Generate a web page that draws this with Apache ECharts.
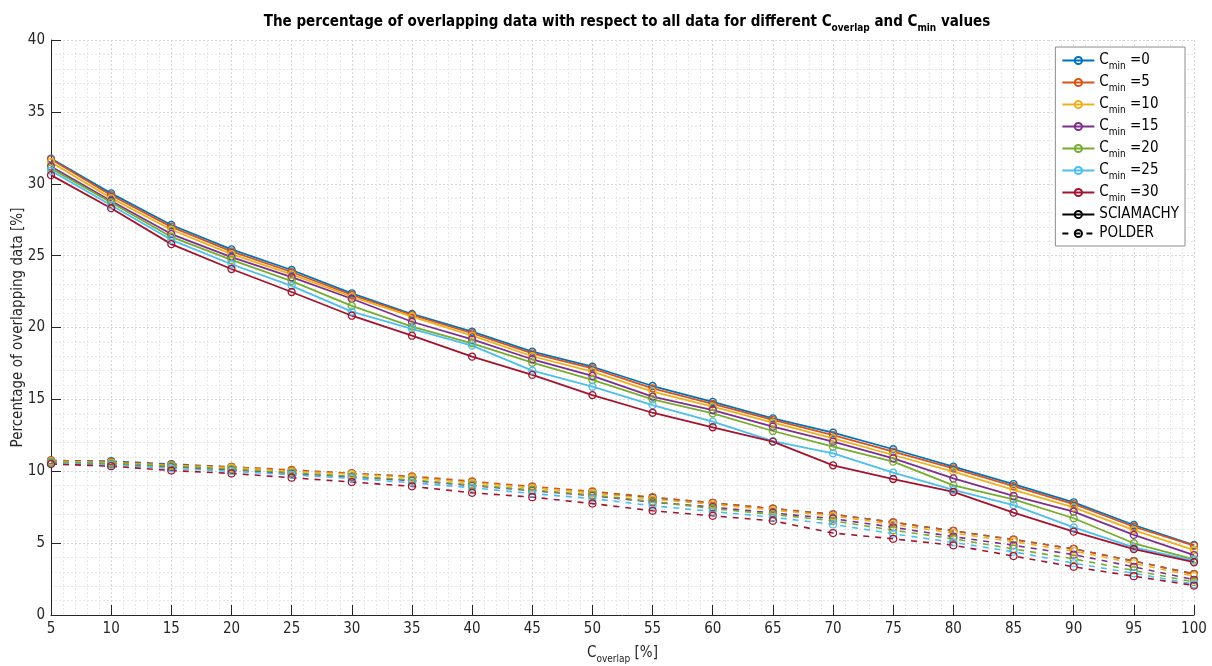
<!DOCTYPE html>
<html>
<head>
<meta charset="utf-8">
<script src="https://cdn.jsdelivr.net/npm/echarts@6/dist/echarts.min.js"></script>
<style>
  html, body { margin: 0; padding: 0; background: #fff; }
  #chart { width: 1212px; height: 666px; }
</style>
</head>
<body>
<div id="chart"></div>
<script>
// C_overlap values (x axis, %)
const cOverlap = [5, 10, 15, 20, 25, 30, 35, 40, 45, 50, 55, 60, 65, 70, 75, 80, 85, 90, 95, 100];

// C_min levels and their colours
const cMinLevels = [0, 5, 10, 15, 20, 25, 30];
const colors = ['#0072BD', '#D95319', '#EDB120', '#7E2F8E', '#77AC30', '#4DBEEE', '#A2142F'];

// SCIAMACHY: percentage of overlapping data per C_min level
const sciamachy0  = [31.75, 29.33, 27.13, 25.43, 24.0, 22.38, 20.94, 19.71, 18.32, 17.27, 15.93, 14.82, 13.68, 12.68, 11.53, 10.32, 9.11, 7.84, 6.26, 4.87];
const sciamachy5  = [31.7, 29.2, 27.0, 25.3, 23.86, 22.26, 20.87, 19.6, 18.2, 17.16, 15.77, 14.68, 13.57, 12.52, 11.36, 10.2, 8.97, 7.72, 6.14, 4.82];
const sciamachy10 = [31.5, 29.0, 26.8, 25.1, 23.7, 22.14, 20.75, 19.43, 18.0, 16.93, 15.54, 14.49, 13.38, 12.29, 11.13, 9.97, 8.7, 7.49, 5.91, 4.52];
const sciamachy15 = [31.2, 28.8, 26.5, 24.9, 23.5, 22.0, 20.4, 19.18, 17.79, 16.63, 15.19, 14.26, 13.1, 12.06, 10.9, 9.5, 8.28, 7.19, 5.57, 4.17];
const sciamachy20 = [31.07, 28.7, 26.3, 24.7, 23.23, 21.5, 20.06, 18.9, 17.55, 16.35, 15.0, 14.03, 12.8, 11.71, 10.67, 9.02, 8.05, 6.73, 4.99, 3.87];
const sciamachy25 = [30.9, 28.5, 26.1, 24.4, 22.9, 21.1, 19.9, 18.74, 17.0, 15.88, 14.6, 13.45, 12.1, 11.25, 9.9, 8.7, 7.65, 6.1, 4.7, 3.78];
const sciamachy30 = [30.6, 28.3, 25.8, 24.07, 22.47, 20.82, 19.43, 17.97, 16.7, 15.3, 14.07, 13.06, 12.06, 10.41, 9.46, 8.56, 7.12, 5.8, 4.59, 3.67];

// POLDER: percentage of overlapping data per C_min level
const polder0  = [10.75, 10.7, 10.5, 10.3, 10.05, 9.85, 9.6, 9.25, 8.9, 8.55, 8.15, 7.8, 7.4, 7.0, 6.45, 5.85, 5.25, 4.6, 3.75, 2.85];
const polder5  = [10.75, 10.65, 10.45, 10.3, 10.1, 9.85, 9.65, 9.3, 8.95, 8.6, 8.2, 7.8, 7.4, 7.0, 6.45, 5.85, 5.25, 4.6, 3.75, 2.85];
const polder10 = [10.7, 10.6, 10.4, 10.25, 10.0, 9.8, 9.55, 9.2, 8.85, 8.5, 8.05, 7.7, 7.3, 6.9, 6.3, 5.7, 5.1, 4.45, 3.6, 2.7];
const polder15 = [10.6, 10.5, 10.3, 10.1, 9.85, 9.6, 9.35, 9.0, 8.65, 8.3, 7.85, 7.5, 7.1, 6.7, 6.1, 5.45, 4.85, 4.2, 3.35, 2.45];
const polder20 = [10.65, 10.55, 10.35, 10.15, 9.9, 9.65, 9.4, 9.05, 8.7, 8.35, 7.9, 7.4, 7.0, 6.55, 5.9, 5.3, 4.6, 3.9, 3.1, 2.3];
const polder25 = [10.55, 10.45, 10.2, 10.0, 9.75, 9.5, 9.2, 8.85, 8.45, 8.1, 7.6, 7.2, 6.8, 6.3, 5.65, 5.05, 4.4, 3.6, 2.9, 2.15];
const polder30 = [10.5, 10.35, 10.05, 9.85, 9.55, 9.25, 8.95, 8.5, 8.2, 7.75, 7.25, 6.9, 6.55, 5.7, 5.3, 4.85, 4.1, 3.35, 2.7, 2.05];

const sciamachy = [sciamachy0, sciamachy5, sciamachy10, sciamachy15, sciamachy20, sciamachy25, sciamachy30];
const polder = [polder0, polder5, polder10, polder15, polder20, polder25, polder30];

const FONT = '"Liberation Sans Narrow", "DejaVu Sans Condensed", "Liberation Sans", Arial, sans-serif';
const INK = '#262626';

// rich-text styles for C with a subscript
const richBase = {
  m: { fontFamily: FONT, fontSize: 15, color: INK },
  s: { fontFamily: FONT, fontSize: 10, color: INK, padding: [11, 0, 0, 0] }
};
const richLegend = {
  m: { fontFamily: FONT, fontSize: 15, color: '#000' },
  s: { fontFamily: FONT, fontSize: 10, color: '#000', padding: [11, 0, 0, 0] }
};
const richBold = {
  m: { fontFamily: FONT, fontSize: 15, fontWeight: 'bold', color: '#000' },
  s: { fontFamily: FONT, fontSize: 10, fontWeight: 'bold', color: '#000', padding: [11, 0, 0, 0] }
};

const pairs = (ys) => cOverlap.map((x, i) => [x, ys[i]]);
const legendName = (c) => 'Cmin =' + c;

const series = [];
cMinLevels.forEach((c, k) => {
  series.push({
    name: legendName(c),
    type: 'line',
    data: pairs(sciamachy[k]),
    symbol: 'circle',
    symbolSize: 7,
    lineStyle: { color: colors[k], width: 1.8 },
    itemStyle: { color: 'rgba(0,0,0,0)', borderColor: colors[k], borderWidth: 1.3 },
    emphasis: { disabled: true },
    z: 3
  });
});
cMinLevels.forEach((c, k) => {
  series.push({
    name: 'POLDER ' + legendName(c),
    type: 'line',
    data: pairs(polder[k]),
    symbol: 'circle',
    symbolSize: 7,
    lineStyle: { color: colors[k], width: 1.6, type: [6, 6] },
    itemStyle: { color: 'rgba(0,0,0,0)', borderColor: colors[k], borderWidth: 1.2 },
    emphasis: { disabled: true },
    z: 2
  });
});
// legend keys for the two instruments
series.push({
  name: 'SCIAMACHY', type: 'line', data: [], symbol: 'circle', symbolSize: 7,
  lineStyle: { color: '#000', width: 1.8 },
  itemStyle: { color: 'rgba(0,0,0,0)', borderColor: '#000', borderWidth: 1.3 }
});
series.push({
  name: 'POLDER', type: 'line', data: [], symbol: 'circle', symbolSize: 7,
  lineStyle: { color: '#000', width: 1.4, type: [6, 6] },
  itemStyle: { color: 'rgba(0,0,0,0)', borderColor: '#000', borderWidth: 1.2 }
});

const chart = echarts.init(document.getElementById('chart'), null, { renderer: 'canvas' });

chart.setOption({
  animation: false,
  backgroundColor: '#fff',
  title: {
    text: '{m|The percentage of overlapping data with respect to all data for different C}{s|overlap}{m| and C}{s|min}{m| values}',
    left: 622,
    top: 7,
    textAlign: 'center',
    textStyle: { rich: richBold }
  },
  grid: { left: 51, right: 18, top: 40, bottom: 51, outerBoundsMode: 'none', containLabel: false },
  legend: {
    orient: 'vertical',
    right: 27,
    top: 47,
    data: cMinLevels.map(legendName).concat(['SCIAMACHY', 'POLDER']),
    backgroundColor: '#fff',
    borderColor: '#8c8c8c',
    borderWidth: 1,
    borderRadius: 0,
    padding: [6, 6, 5, 6],
    itemWidth: 32,
    itemHeight: 9,
    itemGap: 4,
    textStyle: { rich: richLegend, fontFamily: FONT, fontSize: 15, color: '#000' },
    formatter: (name) => {
      if (name.indexOf('Cmin') === 0) {
        return '{m|C}{s|min}{m|' + name.slice(4) + '}';
      }
      return '{m|' + name + '}';
    }
  },
  xAxis: {
    type: 'value',
    min: 5,
    max: 100,
    interval: 5,
    name: '{m|C}{s|overlap}{m| [%]}',
    nameLocation: 'middle',
    nameGap: 28,
    nameMoveOverlap: false,
    nameTextStyle: { rich: richBase },
    axisLine: { show: true, onZero: false, lineStyle: { color: INK, width: 1 } },
    axisTick: { show: true, inside: true, length: 10, lineStyle: { color: INK } },
    axisLabel: { fontFamily: FONT, fontSize: 15, color: INK, margin: 7 },
    splitLine: { show: true, lineStyle: { color: '#d6d6d6', type: [2, 2], width: 1 } },
    minorTick: { show: false, splitNumber: 5 },
    minorSplitLine: { show: true, lineStyle: { color: '#e6e6e6', type: [2, 2], width: 1 } }
  },
  yAxis: {
    type: 'value',
    min: 0,
    max: 40,
    interval: 5,
    name: 'Percentage of overlapping data [%]',
    nameLocation: 'middle',
    nameGap: 25,
    nameRotate: 90,
    nameMoveOverlap: false,
    nameTextStyle: { fontFamily: FONT, fontSize: 15, color: INK },
    axisLine: { show: true, onZero: false, lineStyle: { color: INK, width: 1 } },
    axisTick: { show: true, inside: true, length: 10, lineStyle: { color: INK } },
    axisLabel: { fontFamily: FONT, fontSize: 15, color: INK, margin: 6 },
    splitLine: { show: true, lineStyle: { color: '#d6d6d6', type: [2, 2], width: 1 } },
    minorTick: { show: false, splitNumber: 5 },
    minorSplitLine: { show: true, lineStyle: { color: '#e6e6e6', type: [2, 2], width: 1 } }
  },
  series: series
});
</script>
</body>
</html>
